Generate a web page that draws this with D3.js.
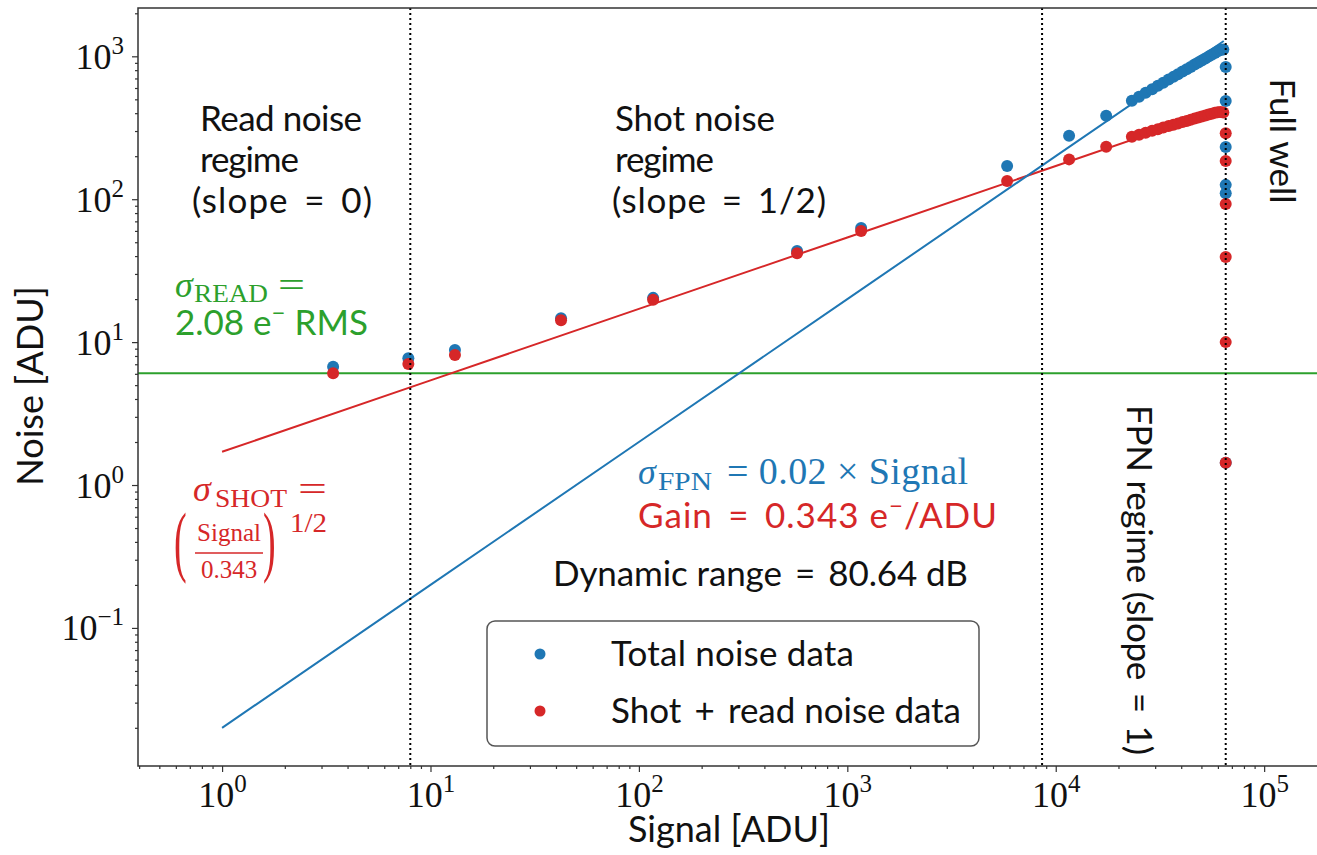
<!DOCTYPE html>
<html><head><meta charset="utf-8">
<script src="https://cdn.jsdelivr.net/npm/d3@7"></script>
<style>body{margin:0;background:#fff} svg{display:block}</style>
</head><body><svg id="c" width="1317" height="855"></svg>
<script>
// ---- data ----
const signal = [3.41, 7.83, 13.1, 42.3, 117, 574, 1165, 5844, 11590, 17460, 23190,
  25100, 27000, 29000, 30900, 32800, 34800, 36700, 38600, 40600, 42500, 44400, 46400,
  48300, 50200, 52200, 54100, 56000, 58000, 59900, 61800, 63700];
const totalNoise = [6.73, 7.70, 8.81, 14.7, 20.4, 43.4, 62.9, 170.8, 278, 384, 489,
  522, 555, 589, 622, 654, 687, 718, 749, 782, 812, 843, 875, 905, 934, 965, 995,
  1024, 1055, 1084, 1105, 1118];
const shotReadNoise = [6.05, 7.03, 8.13, 14.2, 19.8, 41.9, 59.9, 134, 190, 233, 274,
  283, 292, 301, 309, 317, 325, 332, 339, 347, 353, 360, 367, 373, 379, 385, 391,
  397, 402, 406, 408, 405];
const satSignal = [65400, 65400, 65400, 65400, 65400, 65400];
const satTotal = [841, 487, 232, 126, 110, 1.43];
const satShotRead = [290, 185, 92.5, 39.4, 10.0, 1.43];
const readNoiseADU = 6.06;
const gain = 0.343;
const fpnFactor = 0.02;
const fitSignal = [1, 10, 100, 1000, 10000, 64000];
const regimeBounds = [8.0, 8600, 65400];
const xMajor = [1, 10, 100, 1000, 10000, 100000];
const yMajor = [0.1, 1, 10, 100, 1000];
const xMajorExp = ["0", "1", "2", "3", "4", "5"];
const yMajorExp = ["\u22121", "0", "1", "2", "3"];
const xDomain = [0.395, 2.07e5];
const yDomain = [0.01081, 2178];

const C_BLUE = "#1f77b4", C_RED = "#d62728", C_GREEN = "#2ca02c";
const SANS = "Lato, 'Open Sans', sans-serif";
const SERIF = "'Liberation Serif', 'DejaVu Serif', serif";
const EQ = " \u2009=\u2009 ";

const svg = d3.select("#c");
const L = 138, T = 8, B = 766, R = 1330;
const x = d3.scaleLog().domain(xDomain).range([L, R]);
const y = d3.scaleLog().domain(yDomain).range([B, T]);

function minorTicks(dom) {
  const out = [];
  for (let e = -3; e <= 6; e++) for (let m = 2; m <= 9; m++) {
    const v = m * Math.pow(10, e);
    if (v >= dom[0] && v <= dom[1]) out.push(v);
  }
  return out;
}

svg.append("defs").append("clipPath").attr("id", "clip")
  .append("rect").attr("x", L).attr("y", T).attr("width", R - L).attr("height", B - T);
const plot = svg.append("g").attr("clip-path", "url(#clip)");

// read noise line
plot.append("line").attr("x1", L).attr("x2", R)
  .attr("y1", y(readNoiseADU)).attr("y2", y(readNoiseADU))
  .attr("stroke", C_GREEN).attr("stroke-width", 2);
// shot noise fit
const line = d3.line().x(d => x(d[0])).y(d => y(d[1]));
plot.append("path").datum(fitSignal.map(s => [s, Math.sqrt(s / gain)]))
  .attr("d", line).attr("fill", "none").attr("stroke", C_RED).attr("stroke-width", 2);
// FPN fit
plot.append("path").datum(fitSignal.map(s => [s, fpnFactor * s]))
  .attr("d", line).attr("fill", "none").attr("stroke", C_BLUE).attr("stroke-width", 2);

// points: total first then shot+read on top
const R_PT = 6;
plot.append("g").selectAll("circle").data(signal.map((s, i) => [s, totalNoise[i]])
  .concat(satSignal.map((s, i) => [s, satTotal[i]])))
  .join("circle").attr("cx", d => x(d[0])).attr("cy", d => y(d[1])).attr("r", R_PT).attr("fill", C_BLUE);
plot.append("g").selectAll("circle").data(signal.map((s, i) => [s, shotReadNoise[i]])
  .concat(satSignal.map((s, i) => [s, satShotRead[i]])))
  .join("circle").attr("cx", d => x(d[0])).attr("cy", d => y(d[1])).attr("r", R_PT).attr("fill", C_RED);

// regime boundary dotted lines
plot.append("g").selectAll("line").data(regimeBounds).join("line")
  .attr("x1", d => x(d)).attr("x2", d => x(d)).attr("y1", T).attr("y2", B)
  .attr("stroke", "#000").attr("stroke-width", 2).attr("stroke-dasharray", "2,3");

// ---- axes ----
const AX = "#333";
function styleAxis(g) {
  g.select(".domain").remove();
  g.selectAll(".tick line").attr("stroke", AX).attr("stroke-width", 1.2);
}
const gx = svg.append("g").attr("transform", `translate(0,${B})`)
  .call(d3.axisBottom(x).tickValues(xMajor).tickSize(6).tickFormat(() => ""));
styleAxis(gx);
gx.selectAll(".tick").each(function (d, i) {
  d3.select(this).select("text").remove();
  const t = d3.select(this).append("text").attr("y", 41).attr("text-anchor", "middle")
    .attr("font-family", SERIF).attr("font-size", 36).attr("fill", "#111");
  t.append("tspan").text("10");
  t.append("tspan").attr("dy", -15).attr("font-size", 25).text(xMajorExp[i]);
});
const gxm = svg.append("g").attr("transform", `translate(0,${B})`)
  .call(d3.axisBottom(x).tickValues(minorTicks(xDomain)).tickSize(3).tickFormat(() => ""));
styleAxis(gxm);

const gy = svg.append("g").attr("transform", `translate(${L},0)`)
  .call(d3.axisLeft(y).tickValues(yMajor).tickSize(6).tickFormat(() => ""));
styleAxis(gy);
gy.selectAll(".tick").each(function (d, i) {
  d3.select(this).select("text").remove();
  const t = d3.select(this).append("text").attr("x", -14).attr("y", 12).attr("text-anchor", "end")
    .attr("font-family", SERIF).attr("font-size", 36).attr("fill", "#111");
  t.append("tspan").text("10");
  t.append("tspan").attr("dy", -15).attr("font-size", 25).text(yMajorExp[i]);
});
const gym = svg.append("g").attr("transform", `translate(${L},0)`)
  .call(d3.axisLeft(y).tickValues(minorTicks(yDomain)).tickSize(3).tickFormat(() => ""));
styleAxis(gym);

// spines
svg.append("path").attr("d", `M${R},${T}H${L}V${B}H${R}`).attr("fill", "none")
  .attr("stroke", AX).attr("stroke-width", 1.5);

// axis labels
svg.append("text").attr("x", 729).attr("y", 842).attr("text-anchor", "middle")
  .attr("font-family", SANS).attr("font-size", 36).attr("fill", "#111").text("Signal [ADU]");
svg.append("text").attr("transform", "translate(43,386) rotate(-90)").attr("text-anchor", "middle")
  .attr("font-family", SANS).attr("font-size", 36).attr("fill", "#111").text("Noise [ADU]");

// ---- annotations ----
function sansText(xp, yp, str, color, len) {
  const t = svg.append("text").attr("x", xp).attr("y", yp)
    .attr("font-family", SANS).attr("font-size", 35).attr("fill", color).text(str);
  if (len) t.attr("textLength", len).attr("lengthAdjust", "spacing");
  return t;
}
function piece(xp, yp, str, color, size, len, italic) {
  const t = svg.append("text").attr("x", xp).attr("y", yp).attr("font-family", SERIF)
    .attr("font-size", size).attr("fill", color).text(str);
  if (italic) t.attr("font-style", "italic");
  if (len) t.attr("textLength", len).attr("lengthAdjust", "spacingAndGlyphs");
  return t;
}
sansText(200, 131, "Read noise", "#111", 162);
sansText(200, 172, "regime", "#111", 99);
sansText(192, 213, "(slope" + EQ + "0)", "#111", 180);
sansText(615, 131, "Shot noise", "#111", 160);
sansText(615, 172, "regime", "#111", 99);
sansText(612, 213, "(slope" + EQ + "1/2)", "#111", 214);

svg.append("text").attr("transform", "translate(1270,141) rotate(90)").attr("text-anchor", "middle")
  .attr("font-family", SANS).attr("font-size", 35).attr("fill", "#111").text("Full well");
svg.append("text").attr("transform", "translate(1127,580) rotate(90)").attr("text-anchor", "middle")
  .attr("font-family", SANS).attr("font-size", 35).attr("fill", "#111")
  .attr("textLength", 350).attr("lengthAdjust", "spacing").text("FPN regime (slope" + EQ + "1)");

// sigma READ
piece(175, 297, "\u03c3", C_GREEN, 36, 0, true);
piece(194, 302, "READ", C_GREEN, 26, 74);
piece(278, 297, "=", C_GREEN, 36, 27);
{
  const t2 = svg.append("text").attr("x", 175).attr("y", 335).attr("font-family", SANS)
    .attr("font-size", 35).attr("fill", C_GREEN);
  t2.append("tspan").text("2.08 e");
  t2.append("tspan").attr("font-size", 24).attr("dy", -14).text("\u2212");
  t2.append("tspan").attr("dy", 14).text(" RMS");
}
// sigma SHOT
piece(193, 501, "\u03c3", C_RED, 36, 0, true);
piece(215, 507, "SHOT", C_RED, 26, 72);
piece(298, 501, "=", C_RED, 36, 29);
svg.append("text").attr("transform", "translate(174,567) scale(1,2.05)").attr("font-family", SERIF)
  .attr("font-size", 38).attr("fill", C_RED).text("(");
svg.append("text").attr("transform", "translate(263,567) scale(1,2.05)").attr("font-family", SERIF)
  .attr("font-size", 38).attr("fill", C_RED).text(")");
svg.append("text").attr("x", 229).attr("y", 541).attr("text-anchor", "middle").attr("font-family", SERIF)
  .attr("font-size", 25).attr("fill", C_RED).text("Signal");
svg.append("line").attr("x1", 195).attr("x2", 263).attr("y1", 553).attr("y2", 553)
  .attr("stroke", C_RED).attr("stroke-width", 1.6);
svg.append("text").attr("x", 229).attr("y", 578).attr("text-anchor", "middle").attr("font-family", SERIF)
  .attr("font-size", 25).attr("fill", C_RED).text("0.343");
piece(290, 532, "1/2", C_RED, 27, 37);
// sigma FPN
piece(638, 484, "\u03c3", C_BLUE, 36, 0, true);
piece(658, 490, "FPN", C_BLUE, 26, 54);
{
  const t = svg.append("text").attr("x", 727).attr("y", 484).attr("font-family", SERIF)
    .attr("font-size", 38).attr("fill", C_BLUE).attr("textLength", 241).attr("lengthAdjust", "spacing")
    .text("= 0.02 \u00d7 Signal");
}
{
  const t = svg.append("text").attr("x", 638).attr("y", 528).attr("font-family", SANS)
    .attr("font-size", 35).attr("fill", C_RED).attr("textLength", 359).attr("lengthAdjust", "spacing");
  t.append("tspan").text("Gain" + EQ + "0.343 e");
  t.append("tspan").attr("font-size", 24).attr("dy", -14).text("\u2212");
  t.append("tspan").attr("dy", 14).text("/ADU");
}
sansText(553, 586, "Dynamic range" + EQ + "80.64 dB", "#111", 415);

// legend
{
  const g = svg.append("g");
  g.append("rect").attr("x", 487).attr("y", 621).attr("width", 492).attr("height", 125)
    .attr("rx", 8).attr("fill", "#fff").attr("fill-opacity", 0.8).attr("stroke", "#555").attr("stroke-width", 1.5);
  const items = [["Total noise data", C_BLUE, 243], ["Shot" + " \u2009+\u2009 " + "read noise data", C_RED, 350]];
  items.forEach((it, i) => {
    const cy = 654 + i * 57;
    g.append("circle").attr("cx", 540).attr("cy", cy).attr("r", 5.5).attr("fill", it[1]);
    g.append("text").attr("x", 611).attr("y", cy + 12).attr("font-family", SANS)
      .attr("font-size", 35).attr("fill", "#111").attr("textLength", it[2]).attr("lengthAdjust", "spacing")
      .text(it[0]);
  });
}
</script></body></html>
